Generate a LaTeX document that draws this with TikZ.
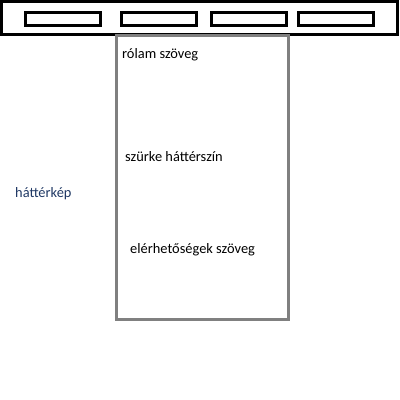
\documentclass[tikz,border=0pt]{standalone}
\usepackage{fontspec}
\setmainfont{Carlito}
\usepackage{tikz}
\definecolor{navy}{RGB}{31,56,100}
\begin{document}
\begin{tikzpicture}[x=1pt,y=-1pt,
    every node/.style={font=\fontsize{14.4}{17}\selectfont,inner sep=0,anchor=base west},
    menubox/.style={draw,line width=3pt}]
        \useasboundingbox (0,0) rectangle (400,400);
        \draw[line width=3pt] (1.5,1.5) rectangle (397.5,34);
        \foreach \i/\x in {1/25,2/121,3/211,4/298}
          \draw[menubox] (\x,12.5) rectangle ++(75,13);
        \draw[line width=3pt,color=gray] (116.5,35.5) rectangle (288.5,319.5);
        \node (about) at (122,58) {rólam szöveg};
        \node (grey) at (125,161) {szürke háttérszín};
        \node[color=navy] (bg) at (15,197) {háttérkép};
        \node (contact) at (130,253) {elérhetőségek szöveg};
      \end{tikzpicture}
\end{document}
